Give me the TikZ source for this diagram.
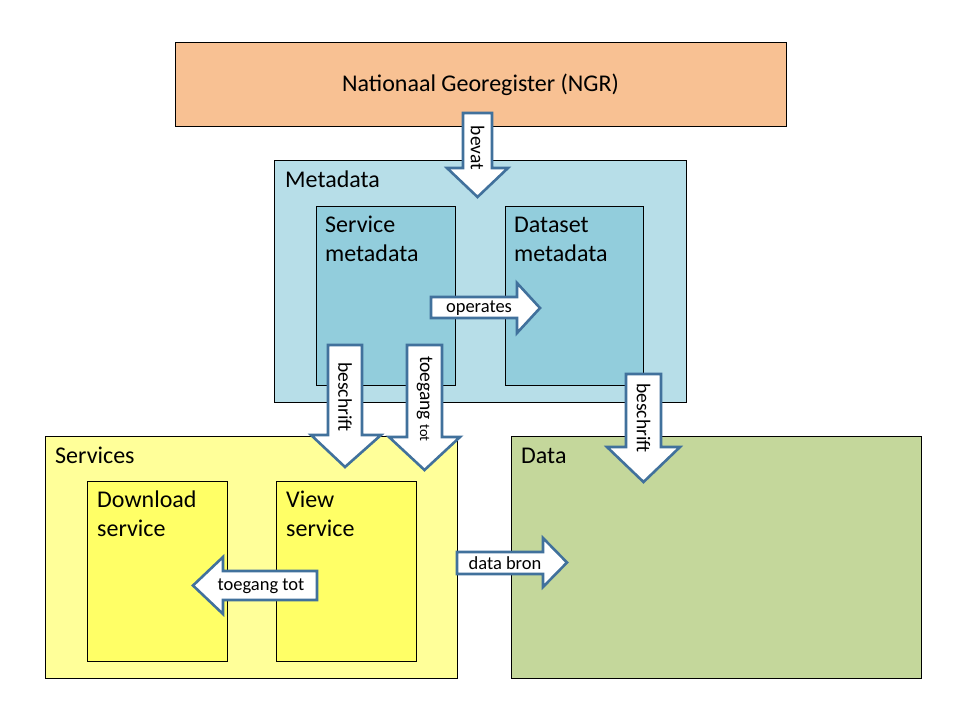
\documentclass[tikz,border=0pt]{standalone}
\usepackage{fontspec}
\setmainfont{Carlito}
\begin{document}
\begin{tikzpicture}[x=1pt,y=-1pt,
  box/.style={draw=black,line width=0.9pt},
  barrow/.style={draw=arrowblue,fill=white,line width=2.6pt,line join=miter},
  big/.style={font=\fontsize{24}{28.5}\selectfont,inner sep=0pt,align=left},
  lab/.style={font=\fontsize{18.5}{20}\selectfont,inner sep=0pt},
  vlab/.style={font=\fontsize{19.5}{21}\selectfont,inner sep=0pt,rotate=-90}]
\definecolor{arrowblue}{HTML}{41719C}
\definecolor{ngr}{HTML}{F8C193}
\definecolor{meta}{HTML}{B7DEE8}
\definecolor{metain}{HTML}{92CDDC}
\definecolor{serv}{HTML}{FFFF99}
\definecolor{servin}{HTML}{FFFF66}
\definecolor{datac}{HTML}{C4D79B}
\useasboundingbox[fill=white] (0,0) rectangle (960,720);
% boxes
\draw[box,fill=ngr] (175,42) rectangle (786,126);
\node[big,anchor=center] (ngrt) at (480.5,85) {Nationaal Georegister (NGR)};
\draw[box,fill=meta] (274,160) rectangle (686,402);
\node[big,anchor=base west] (metat) at (285,187) {Metadata};
\draw[box,fill=metain] (316,206) rectangle (455,385);
\node[big,anchor=base west] (smt) at (325,261) {Service\\metadata};
\draw[box,fill=metain] (505,206) rectangle (643,385);
\node[big,anchor=base west] (dmt) at (514,261) {Dataset\\metadata};
\draw[box,fill=serv] (45,436) rectangle (457,678);
\node[big,anchor=base west] (servt) at (55,463) {Services};
\draw[box,fill=servin] (87,481) rectangle (227,661);
\node[big,anchor=base west] (dlt) at (97,536) {Download\\service};
\draw[box,fill=servin] (276,481) rectangle (416,661);
\node[big,anchor=base west] (vwt) at (286,536) {View\\service};
\draw[box,fill=datac] (511,436) rectangle (921,678);
\node[big,anchor=base west] (datat) at (521,463) {Data};
% block arrows
% bevat
\draw[barrow] (463,113) -- (492,113) -- (492,168) -- (508,168) -- (477.5,197) -- (447,168) -- (463,168) -- cycle;
\node[vlab] (bevat) at (477.5,148) {bevat};
% beschrift left
\draw[barrow] (328,345) -- (362,345) -- (362,435) -- (381,435) -- (345,467) -- (311,435) -- (328,435) -- cycle;
\node[vlab] (besch1) at (345,397) {beschrift};
% toegang tot down
\draw[barrow] (407,345) -- (442,345) -- (442,437) -- (460,437) -- (424.5,470) -- (389,437) -- (407,437) -- cycle;
\node[vlab] (toeg1) at (424.5,399) {toegang {\fontsize{14.5}{16}\selectfont tot}};
% beschrift right
\draw[barrow] (626,374) -- (661,374) -- (661,447) -- (680,447) -- (643.5,482) -- (607,447) -- (626,447) -- cycle;
\node[vlab] (besch2) at (643.5,418) {beschrift};
% operates
\draw[barrow] (431,297) -- (517,297) -- (517,283) -- (540,308) -- (517,333) -- (517,318) -- (431,318) -- cycle;
\node[lab] (oper) at (479,308) {operates};
% toegang tot left
\draw[barrow] (317,571) -- (223,571) -- (223,557) -- (193,585.5) -- (223,614) -- (223,600) -- (317,600) -- cycle;
\node[lab] (toeg2) at (261,586) {toegang tot};
% data bron
\draw[barrow] (457,552) -- (543,552) -- (543,538) -- (567,562.5) -- (543,587) -- (543,574) -- (457,574) -- cycle;
\node[lab] (bron) at (505,563) {data bron};
\end{tikzpicture}
\end{document}
